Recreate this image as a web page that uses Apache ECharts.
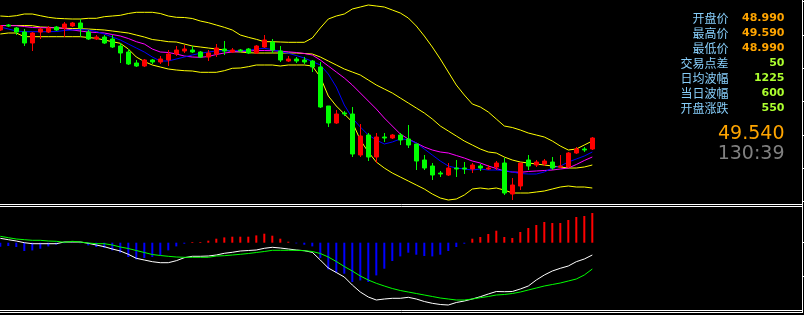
<!DOCTYPE html>
<html><head><meta charset="utf-8">
<script src="https://cdn.jsdelivr.net/npm/echarts@6/dist/echarts.min.js"></script>
<style>html,body{margin:0;padding:0;background:#000;}#c{width:804px;height:315px;}</style>
</head><body><div id="c"></div>
<script>
// ---- candle data (price) ----
const opens  = [50.62,50.67,50.64,50.60,50.49,50.60,50.60,50.65,50.64,50.66, 50.69,50.60,50.53,50.55,50.53,50.46,50.40,50.29,50.26,50.32, 50.30,50.32,50.38,50.41,50.42,50.40,50.35,50.38,50.43,50.40, 50.42,50.43,50.39,50.45,50.50,50.41,50.31,50.33,50.32,50.31, 50.25,49.86,49.69,49.79,49.78,49.37,49.57,49.35,49.55,49.54, 49.57,49.53,49.48,49.32,49.26,49.19,49.17,49.24,49.24,49.23, 49.26,49.23,49.25,49.29,48.98,49.06,49.32,49.27,49.28,49.30, 49.25,49.25,49.39,49.43,49.43];
const closes = [50.66,50.66,50.60,50.49,50.59,50.63,50.64,50.62,50.68,50.69, 50.64,50.53,50.55,50.49,50.45,50.39,50.28,50.26,50.32,50.30, 50.33,50.38,50.42,50.43,50.40,50.35,50.39,50.44,50.41,50.42, 50.41,50.39,50.46,50.52,50.42,50.32,50.33,50.31,50.30,50.25, 49.85,49.69,49.78,49.78,49.38,49.56,49.35,49.55,49.54,49.57, 49.52,49.47,49.31,49.24,49.17,49.18,49.24,49.23,49.23,49.27, 49.24,49.24,49.29,48.99,49.07,49.29,49.26,49.30,49.31,49.24, 49.26,49.39,49.43,49.42,49.54];
const lows   = [50.61,50.65,50.57,50.46,50.41,50.53,50.59,50.61,50.55,50.65, 50.55,50.52,50.52,50.48,50.44,50.29,50.27,50.25,50.25,50.28, 50.28,50.26,50.36,50.39,50.39,50.34,50.31,50.35,50.37,50.39, 50.40,50.38,50.38,50.44,50.39,50.30,50.30,50.29,50.28,50.20, 49.84,49.65,49.68,49.76,49.35,49.35,49.31,49.29,49.50,49.53, 49.47,49.44,49.22,49.22,49.12,49.15,49.16,49.15,49.18,49.19, 49.21,49.22,49.22,48.97,48.92,49.02,49.22,49.25,49.26,49.22, 49.24,49.24,49.38,49.40,49.42];
const highs  = [50.67,50.68,50.65,50.63,50.60,50.64,50.66,50.66,50.70,50.70, 50.73,50.62,50.57,50.57,50.57,50.49,50.43,50.32,50.33,50.33, 50.36,50.42,50.46,50.47,50.46,50.41,50.42,50.48,50.51,50.44, 50.43,50.44,50.47,50.57,50.53,50.46,50.36,50.35,50.35,50.32, 50.30,49.86,49.82,49.81,49.85,49.68,49.59,49.59,49.59,49.58, 49.59,49.67,49.48,49.37,49.29,49.21,49.29,49.32,49.30,49.29, 49.28,49.27,49.31,49.34,49.14,49.29,49.37,49.32,49.33,49.35, 49.37,49.40,49.45,49.45,49.55];
// ---- indicator lines (price) ----
const bollUpper = [50.76,50.755,50.763,50.78,50.78,50.763,50.747,50.737,50.733,50.73, 50.73,50.737,50.737,50.753,50.76,50.767,50.785,50.797,50.797,50.797, 50.785,50.76,50.747,50.745,50.735,50.71,50.693,50.67,50.647,50.62, 50.57,50.547,50.527,50.503,50.503,50.50,50.497,50.497,50.497,50.54, 50.64,50.73,50.76,50.78,50.83,50.85,50.87,50.86,50.85,50.82, 50.79,50.74,50.66,50.56,50.45,50.33,50.20,50.07,49.97,49.88, 49.85,49.80,49.73,49.66,49.645,49.62,49.59,49.57,49.55,49.51, 49.46,49.42,49.43,49.47,49.51];
const bollMid = [50.665,50.665,50.665,50.665,50.663,50.65,50.647,50.642,50.637,50.635, 50.633,50.63,50.625,50.62,50.61,50.60,50.59,50.57,50.55,50.525, 50.515,50.503,50.50,50.48,50.46,50.45,50.44,50.43,50.42,50.405, 50.40,50.393,50.39,50.39,50.39,50.39,50.39,50.39,50.385,50.38, 50.35,50.31,50.27,50.23,50.20,50.17,50.12,50.07,50.03,49.99, 49.94,49.89,49.84,49.79,49.73,49.66,49.61,49.56,49.51,49.47, 49.43,49.40,49.39,49.35,49.32,49.30,49.29,49.28,49.27,49.26, 49.25,49.24,49.24,49.25,49.27];
const bollLower = [50.58,50.59,50.59,50.553,50.553,50.553,50.553,50.553,50.553,50.553, 50.553,50.545,50.537,50.52,50.503,50.487,50.43,50.35,50.305,50.27, 50.25,50.23,50.22,50.213,50.21,50.197,50.197,50.197,50.213,50.237, 50.24,50.253,50.27,50.27,50.27,50.26,50.27,50.27,50.27,50.26, 50.15,49.96,49.86,49.78,49.70,49.52,49.40,49.30,49.24,49.19, 49.15,49.11,49.07,49.03,48.98,48.94,48.92,48.93,48.97,49.03, 49.04,49.03,49.04,49.02,48.99,48.99,48.99,49.00,49.01,49.03, 49.05,49.06,49.05,49.05,49.04];
const maFast = [50.65,50.63,50.61,50.603,50.603,50.603,50.603,50.605,50.615,50.62, 50.625,50.62,50.605,50.58,50.55,50.52,50.48,50.44,50.40,50.35, 50.31,50.31,50.33,50.35,50.37,50.387,50.40,50.41,50.413,50.413, 50.413,50.418,50.43,50.437,50.425,50.405,50.387,50.365,50.34,50.305, 50.27,50.18,50.05,49.87,49.74,49.65,49.57,49.52,49.48,49.50, 49.53,49.525,49.49,49.43,49.37,49.31,49.26,49.24,49.23,49.22, 49.23,49.22,49.22,49.215,49.20,49.185,49.18,49.18,49.20,49.24, 49.26,49.30,49.33,49.36,49.40];
const maSlow = [50.665,50.663,50.663,50.655,50.645,50.643,50.643,50.643,50.635,50.62, 50.61,50.60,50.595,50.59,50.575,50.56,50.535,50.503,50.48,50.43, 50.40,50.395,50.38,50.36,50.35,50.347,50.355,50.375,50.39,50.40, 50.405,50.41,50.415,50.415,50.413,50.408,50.402,50.395,50.385,50.37, 50.32,50.26,50.20,50.14,50.07,49.99,49.91,49.83,49.74,49.66, 49.58,49.53,49.49,49.45,49.42,49.40,49.39,49.365,49.34,49.31, 49.29,49.26,49.235,49.21,49.20,49.197,49.205,49.21,49.215,49.22, 49.23,49.24,49.275,49.315,49.35];
// ---- MACD ----
const macdHist = [-0.04,-0.033,-0.043,-0.083,-0.077,-0.06,-0.037,-0.02,-0.005,-0.003, -0.005,-0.027,-0.043,-0.053,-0.077,-0.1,-0.143,-0.167,-0.153,-0.143, -0.127,-0.077,-0.037,-0.01,0.007,0.007,0.02,0.04,0.053,0.06, 0.06,0.06,0.073,0.09,0.07,0.04,0.01,-0.007,-0.02,-0.037, -0.153,-0.267,-0.3,-0.31,-0.393,-0.377,-0.393,-0.327,-0.26,-0.183, -0.137,-0.1,-0.12,-0.133,-0.137,-0.12,-0.083,-0.043,-0.01,0.04, 0.057,0.087,0.12,0.057,0.047,0.107,0.147,0.177,0.207,0.197, 0.197,0.227,0.257,0.267,0.297];
const macdDif = [0.044,0.03,0.017,0,-0.01,-0.01,-0.01,-0.01,0.007,0.007, 0.007,-0.006,-0.023,-0.04,-0.063,-0.083,-0.116,-0.156,-0.173,-0.19, -0.2,-0.2,-0.18,-0.15,-0.136,-0.136,-0.133,-0.123,-0.106,-0.096, -0.083,-0.078,-0.073,-0.056,-0.046,-0.053,-0.063,-0.073,-0.08,-0.096, -0.173,-0.253,-0.298,-0.343,-0.423,-0.493,-0.543,-0.573,-0.563,-0.556, -0.556,-0.546,-0.563,-0.588,-0.606,-0.618,-0.623,-0.598,-0.583,-0.563, -0.54,-0.513,-0.488,-0.49,-0.488,-0.463,-0.433,-0.373,-0.323,-0.283, -0.256,-0.233,-0.19,-0.163,-0.123];
const macdDea = [0.064,0.05,0.037,0.03,0.024,0.024,0.017,0.014,0.004,0.014, 0.007,-0.003,-0.01,-0.01,-0.023,-0.043,-0.058,-0.078,-0.098,-0.118, -0.128,-0.136,-0.143,-0.146,-0.146,-0.146,-0.146,-0.133,-0.13,-0.123, -0.116,-0.108,-0.098,-0.088,-0.076,-0.076,-0.076,-0.076,-0.08,-0.088, -0.108,-0.143,-0.188,-0.238,-0.283,-0.333,-0.373,-0.406,-0.433,-0.458, -0.478,-0.493,-0.508,-0.523,-0.538,-0.553,-0.563,-0.573,-0.573,-0.563, -0.55,-0.538,-0.523,-0.518,-0.508,-0.493,-0.473,-0.453,-0.433,-0.418, -0.403,-0.383,-0.363,-0.323,-0.263];
// ---- info panel ----
const infoLabels = ['开盘价','最高价','最低价','交易点差','日均波幅','当日波幅','开盘涨跌'];
const infoValues = ['48.990','49.590','48.990','50','1225','600','550'];
const lastPrice = '49.540';
const countdown = '130:39';

const categories = opens.map((_, i) => String(i + 1));
const candles = opens.map((o, i) => [o, closes[i], lows[i], highs[i]]);

const chart = echarts.init(document.getElementById('c'), null, {renderer: 'canvas'});
const lineS = (data, color, xi) => ({
  type: 'line', data, xAxisIndex: xi, yAxisIndex: xi, symbol: 'none', silent: true,
  lineStyle: {color, width: 1}, z: 3
});

const graphics = [];
const W = 0xffffff;
[[204.5],[206.5],[310.5],[312.5]].forEach(([y]) => graphics.push({type:'line', shape:{x1:0,y1:y,x2:802.5,y2:y}, style:{stroke:'#fff', lineWidth:1}, silent:true}));
graphics.push({type:'line', shape:{x1:802.5,y1:0,x2:802.5,y2:313}, style:{stroke:'#fff', lineWidth:1}, silent:true});
[1.5,35.5,68.5,101.5,135.5,168.5,201.5,242.5,276.5].forEach(y => graphics.push({type:'line', shape:{x1:802.5,y1:y,x2:805,y2:y}, style:{stroke:'#fff', lineWidth:1}, silent:true}));
infoLabels.forEach((t, i) => {
  graphics.push({type:'text', x:728.5, y:18.5 + i*15, silent:true,
    style:{text:t, fill:'#87cefa', font:'12px "Noto Sans CJK SC"', align:'right', verticalAlign:'middle'}});
  graphics.push({type:'text', x:784.5, y:18.5 + i*15, silent:true,
    style:{text:infoValues[i], fill: i < 3 ? '#ffa500' : '#adff2f', font:'bold 11px "DejaVu Sans"', align:'right', verticalAlign:'middle'}});
});
graphics.push({type:'text', x:784.5, y:134, silent:true, style:{text:lastPrice, fill:'#ffa500', font:'19px "DejaVu Sans"', align:'right', verticalAlign:'middle'}});
graphics.push({type:'text', x:784.5, y:154.5, silent:true, style:{text:countdown, fill:'#808080', font:'19px "DejaVu Sans"', align:'right', verticalAlign:'middle'}});

chart.setOption({
  animation: false,
  backgroundColor: '#000',
  grid: [
    {left: 0.3, width: 592, top: 0, height: 203},
    {left: 0.3, width: 592, top: 207, height: 103}
  ],
  xAxis: [
    {type:'category', data: categories, boundaryGap:false, gridIndex:0, show:false},
    {type:'category', data: categories, boundaryGap:false, gridIndex:1, show:false}
  ],
  yAxis: [
    {type:'value', gridIndex:0, min:48.89, max:50.92, show:false, splitLine:{show:false}},
    {type:'value', gridIndex:1, min:-0.673, max:0.357, show:false, splitLine:{show:false}}
  ],
  series: [
    lineS(bollUpper, '#ffff00', 0),
    lineS(bollMid, '#ffff00', 0),
    lineS(bollLower, '#ffff00', 0),
    lineS(maSlow, '#ff00ff', 0),
    lineS(maFast, '#0000ff', 0),
    {type:'candlestick', data: candles, xAxisIndex:0, yAxisIndex:0, barWidth:5, silent:true, z:5,
      itemStyle:{color:'#ff0000', color0:'#00ff00', borderColor:'#ff0000', borderColor0:'#00ff00', borderWidth:1}},
    {type:'bar', data: macdHist, xAxisIndex:1, yAxisIndex:1, barWidth:2, silent:true,
      itemStyle:{color: p => p.value >= 0 ? '#ff0000' : '#0000ff'}},
    lineS(macdDif, '#ffffff', 1),
    lineS(macdDea, '#00ff00', 1)
  ],
  graphic: graphics
});
</script></body></html>
